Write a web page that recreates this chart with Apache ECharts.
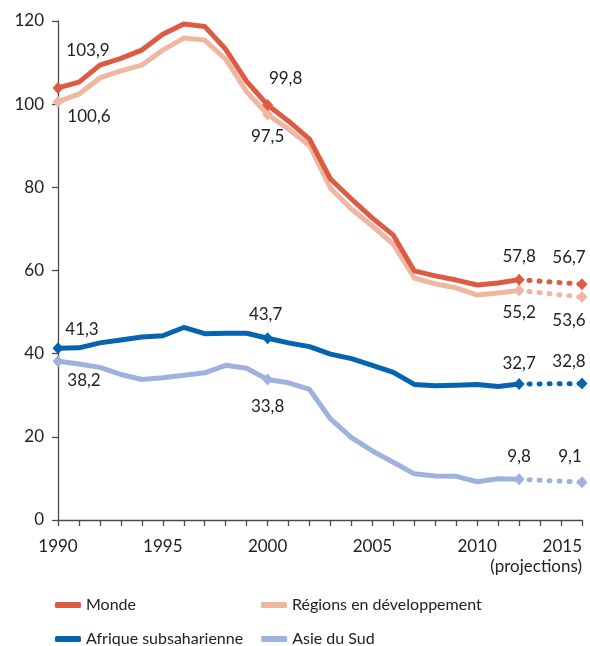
<!DOCTYPE html>
<html>
<head>
<meta charset="utf-8">
<script src="https://cdn.jsdelivr.net/npm/echarts@6/dist/echarts.min.js"></script>
<style>
  html, body { margin: 0; padding: 0; background: #fff; }
  #chart { width: 590px; height: 646px; }
</style>
</head>
<body>
<div id="chart"></div>
<script>
(function () {

  ///////////////////////////////////////////////////////////////////
  // données (1990-2012 observé, 2015 projection)
  ///////////////////////////////////////////////////////////////////
  var years = ['1990', '1991', '1992', '1993', '1994', '1995', '1996', '1997', '1998', '1999',
               '2000', '2001', '2002', '2003', '2004', '2005', '2006', '2007', '2008', '2009',
               '2010', '2011', '2012', '2013', '2014', '2015'];
  var yTicks = [0, 20, 40, 60, 80, 100, 120];

  var monde = [103.9, 105.3, 109.4, 111.0, 113.0, 116.8, 119.3, 118.7, 113.2, 105.5,
               99.8, 95.9, 91.6, 82.0, 77.2, 72.6, 68.5, 59.9, 58.7, 57.7, 56.5, 57.0, 57.8];
  var regions = [100.6, 102.4, 106.3, 108.0, 109.4, 113.0, 115.9, 115.4, 110.8, 103.0,
                 97.5, 94.0, 90.0, 79.8, 74.8, 70.7, 66.3, 58.2, 56.8, 55.8, 54.1, 54.6, 55.2];
  var afrique = [41.3, 41.4, 42.6, 43.3, 44.0, 44.3, 46.3, 44.8, 44.9, 44.9,
                 43.7, 42.6, 41.7, 39.9, 38.8, 37.2, 35.5, 32.6, 32.3, 32.4, 32.6, 32.1, 32.7];
  var asie = [38.2, 37.5, 36.7, 35.0, 33.8, 34.2, 34.8, 35.4, 37.2, 36.5,
              33.8, 33.0, 31.4, 24.3, 19.8, 16.6, 13.9, 11.1, 10.6, 10.5, 9.2, 9.9, 9.8];

  // projections 2015
  var proj2015 = { monde: 56.7, regions: 53.6, afrique: 32.8, asie: 9.1 };

  var labelYears = ['1990', '2000', '2012', '2015'];
  var projYear = '2015';
  var projText = '(projections)';
  var names = ['Monde', 'Régions en développement', 'Afrique subsaharienne', 'Asie du Sud'];

  ///////////////////////////////////////////////////////////////////
  // style
  ///////////////////////////////////////////////////////////////////
  var FONT = 'Lato, "Open Sans", sans-serif';
  var TEXT = '#222';
  var AXIS = '#4a4a4a';

  // décalage des étiquettes par rapport au losange, dans l'ordre de labelYears
  var styles = {
    monde:   { color: '#de5b43', offsets: [[30, -37], [18, -26], [0, -23], [-13, -27]] },
    regions: { color: '#efb6a1', offsets: [[31, 15], [0, 22], [0, 22], [-13, 23]] },
    afrique: { color: '#0563b0', offsets: [[24, -19], [-2, -24], [0, -21], [-13, -22]] },
    asie:    { color: '#9fb1dd', offsets: [[26, 19], [0, 27], [0, -23], [-12, -26]] }
  };

  function fmt(v) {
    return v.toFixed(1).replace('.', ',');
  }

  function marker(value, offset) {
    return {
      value: value,
      symbol: 'diamond',
      symbolSize: [11, 12],
      label: { show: true, position: 'inside', offset: offset }
    };
  }

  function buildSeries(key, name, values) {
    var st = styles[key];
    var solid = [];
    var dotted = [];
    for (var i = 0; i < years.length; i++) {
      var y = years[i];
      var li = labelYears.indexOf(y);
      var v = i < values.length ? values[i] : null;
      if (v !== null && li >= 0) {
        solid.push(marker(v, st.offsets[li]));
      } else {
        solid.push({ value: v, symbol: 'none' });
      }
      if (y === '2012') {
        dotted.push({ value: v, symbol: 'none' });
      } else if (y === projYear) {
        dotted.push(marker(proj2015[key], st.offsets[li]));
      } else {
        dotted.push(null);
      }
    }
    var common = {
      name: name,
      type: 'line',
      xAxisIndex: 0,
      showAllSymbol: true,
      connectNulls: true,
      itemStyle: { color: st.color },
      label: {
        show: false,
        color: TEXT,
        fontFamily: FONT,
        fontSize: 17,
        formatter: function (p) { return fmt(p.value); }
      },
      emphasis: { disabled: true },
      animation: false
    };
    return [
      Object.assign({}, common, {
        data: solid,
        lineStyle: { color: st.color, width: 5, cap: 'round', join: 'round' }
      }),
      Object.assign({}, common, {
        data: dotted,
        lineStyle: { color: st.color, width: 5, type: [1, 9], cap: 'round' }
      })
    ];
  }

  var series = []
    .concat(buildSeries('regions', names[1], regions))
    .concat(buildSeries('monde', names[0], monde))
    .concat(buildSeries('asie', names[3], asie))
    .concat(buildSeries('afrique', names[2], afrique));

  var myChart = echarts.init(document.getElementById('chart'), null, { renderer: 'canvas' });
  var option = {
    backgroundColor: '#fff',
    animation: false,
    grid: { left: 58, right: 8, top: 21, bottom: 126, containLabel: false, outerBoundsMode: 'none' },
    xAxis: [{
      type: 'category',
      data: years,
      boundaryGap: false,
      axisLine: { show: true, lineStyle: { color: AXIS, width: 1.3 } },
      axisTick: { show: true, interval: 0, length: 6, lineStyle: { color: AXIS, width: 1.3 } },
      axisLabel: {
        interval: function (index, value) { return Number(value) % 5 === 0; },
        showMaxLabel: true,
        alignMaxLabel: 'right',
        margin: 17,
        color: TEXT,
        fontFamily: FONT,
        fontSize: 17,
        lineHeight: 19
      },
      splitLine: { show: false }
    }, {
      // deuxième axe, seulement pour la mention « (projections) » sous 2015
      type: 'category',
      data: years,
      boundaryGap: false,
      position: 'bottom',
      axisLine: { show: false },
      axisTick: { show: false },
      axisLabel: {
        interval: function (index, value) { return value === projYear; },
        align: 'right',
        margin: 37,
        color: TEXT,
        fontFamily: FONT,
        fontSize: 17,
        lineHeight: 19,
        formatter: function () { return projText; }
      },
      splitLine: { show: false }
    }],
    yAxis: {
      type: 'value',
      min: yTicks[0],
      max: yTicks[yTicks.length - 1],
      interval: yTicks[1] - yTicks[0],
      axisLine: { show: true, lineStyle: { color: AXIS, width: 1.3 } },
      axisTick: { show: true, length: 6, lineStyle: { color: AXIS, width: 1.3 } },
      axisLabel: { margin: 14, color: TEXT, fontFamily: FONT, fontSize: 17 },
      splitLine: { show: false }
    },
    legend: {
      data: names,
      left: 50,
      top: 592,
      width: 500,
      icon: 'roundRect',
      itemWidth: 26,
      itemHeight: 6,
      itemGap: 18,
      selectedMode: false,
      textStyle: { fontFamily: FONT, fontSize: 16, color: TEXT, width: 157, lineHeight: 16 }
    },
    series: series
  };

  myChart.setOption(option);
}());
</script>
</body>
</html>
